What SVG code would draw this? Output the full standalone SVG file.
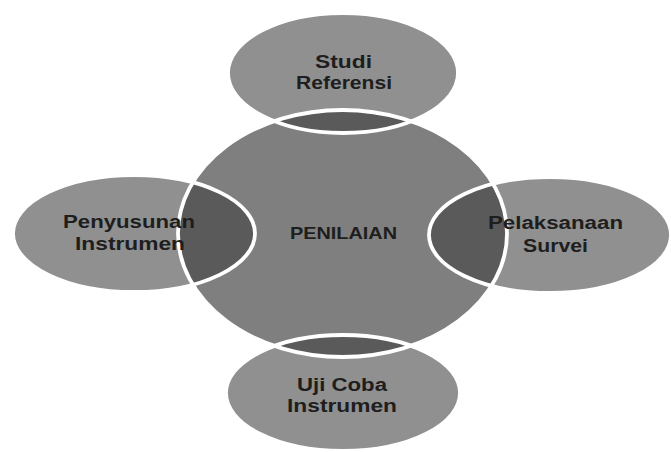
<svg xmlns="http://www.w3.org/2000/svg" xmlns:xlink="http://www.w3.org/1999/xlink" width="671" height="452" viewBox="0 0 671 452">
  <style>
    .sat { fill: #909090; }
    .core { fill: #7f7f7f; }
    .lens { fill: #5a5a5a; }
    .edge { fill: none; stroke: #ffffff; stroke-width: 3.8; }
    .lbl { font-family: "Liberation Sans", Arial, sans-serif; font-weight: 700; font-size: 18px; fill: #1e1e1e; text-anchor: middle; }
  </style>
  <defs>
    <ellipse id="eCore" cx="342.5" cy="233.5" rx="164.5" ry="123.5"/>
    <ellipse id="eTop" cx="343" cy="73" rx="115" ry="60"/>
    <ellipse id="eLeft" cx="134" cy="233.5" rx="121" ry="58.5"/>
    <ellipse id="eRight" cx="550" cy="235" rx="121" ry="58"/>
    <ellipse id="eBottom" cx="343" cy="393" rx="117" ry="58"/>
    <clipPath id="clipCore">
      <use xlink:href="#eCore"/>
    </clipPath>
  </defs>
  <rect x="0" y="0" width="671" height="452" fill="#ffffff"/>

  <g id="node-penilaian">
    <use xlink:href="#eCore" class="core"/>
  </g>
  <g id="node-studi-referensi">
    <use xlink:href="#eTop" class="sat"/>
    <use xlink:href="#eTop" class="lens" clip-path="url(#clipCore)"/>
  </g>
  <g id="node-penyusunan-instrumen">
    <use xlink:href="#eLeft" class="sat"/>
    <use xlink:href="#eLeft" class="lens" clip-path="url(#clipCore)"/>
  </g>
  <g id="node-pelaksanaan-survei">
    <use xlink:href="#eRight" class="sat"/>
    <use xlink:href="#eRight" class="lens" clip-path="url(#clipCore)"/>
  </g>
  <g id="node-uji-coba-instrumen">
    <use xlink:href="#eBottom" class="sat"/>
    <use xlink:href="#eBottom" class="lens" clip-path="url(#clipCore)"/>
  </g>

  <g id="outlines">
    <use xlink:href="#eCore" class="edge"/>
    <use xlink:href="#eTop" class="edge"/>
    <use xlink:href="#eLeft" class="edge"/>
    <use xlink:href="#eRight" class="edge"/>
    <use xlink:href="#eBottom" class="edge"/>
  </g>

  <g id="labels">
    <text class="lbl" x="343.5" y="68" textLength="57" lengthAdjust="spacingAndGlyphs">Studi</text>
    <text class="lbl" x="344" y="89" textLength="96" lengthAdjust="spacingAndGlyphs">Referensi</text>
    <text class="lbl" x="343.5" y="239" style="font-size:17px" textLength="107" lengthAdjust="spacingAndGlyphs">PENILAIAN</text>
    <text class="lbl" x="129" y="228" textLength="132" lengthAdjust="spacingAndGlyphs">Penyusunan</text>
    <text class="lbl" x="130" y="250" textLength="110" lengthAdjust="spacingAndGlyphs">Instrumen</text>
    <text class="lbl" x="555.5" y="229" textLength="135" lengthAdjust="spacingAndGlyphs">Pelaksanaan</text>
    <text class="lbl" x="555.5" y="252" textLength="65" lengthAdjust="spacingAndGlyphs">Survei</text>
    <text class="lbl" x="342" y="391" textLength="90" lengthAdjust="spacingAndGlyphs">Uji Coba</text>
    <text class="lbl" x="342" y="412" textLength="110" lengthAdjust="spacingAndGlyphs">Instrumen</text>
  </g>
</svg>
